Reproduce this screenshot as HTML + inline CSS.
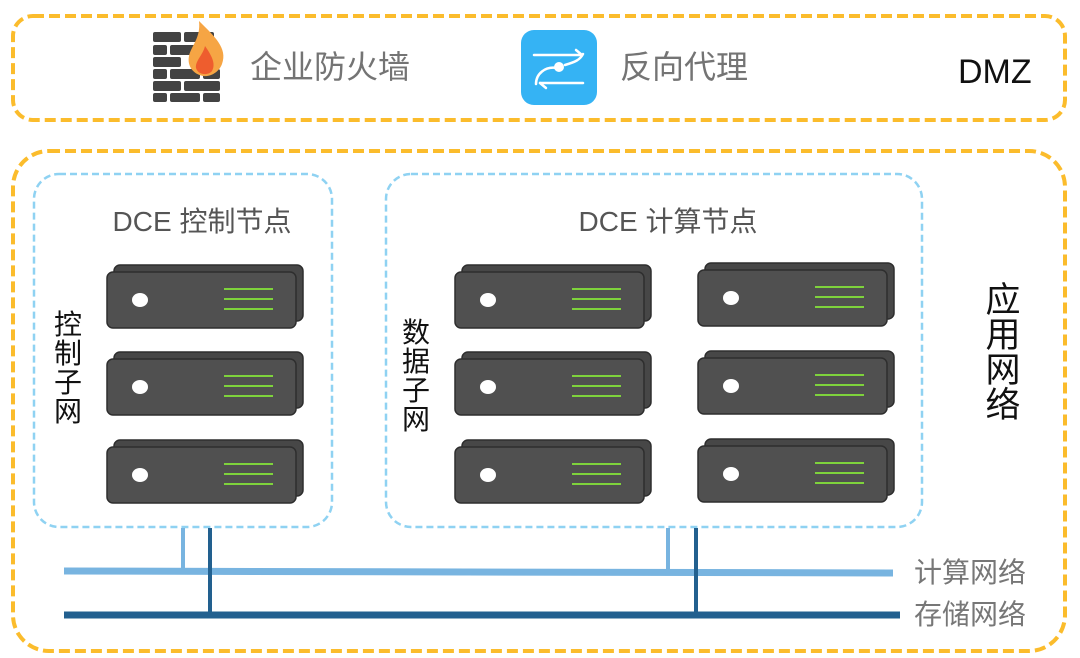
<!DOCTYPE html>
<html><head><meta charset="utf-8"><style>
html,body{margin:0;padding:0;background:#fff;}
svg{display:block;}
text{font-family:"Liberation Sans","Noto Sans CJK SC",sans-serif;}
</style></head><body>
<svg width="1080" height="658" viewBox="0 0 1080 658" xmlns="http://www.w3.org/2000/svg">
<defs>
<g id="srv">
  <rect x="7" y="0" width="189" height="56" rx="6" fill="#474747" stroke="#2e2e2e" stroke-width="1.5"/>
  <rect x="0" y="7" width="189" height="56" rx="6" fill="#505050" stroke="#2e2e2e" stroke-width="1.5"/>
  <ellipse cx="33" cy="35" rx="8" ry="7" fill="#fff"/>
  <g stroke="#7ed23c" stroke-width="2"><line x1="117" y1="24" x2="166" y2="24"/><line x1="117" y1="34" x2="166" y2="34"/><line x1="117" y1="44" x2="166" y2="44"/></g>
</g>
</defs>
<rect x="13" y="16" width="1052" height="104" rx="20" fill="none" stroke="#fbbc2c" stroke-width="4" stroke-dasharray="11 5"/>
<g fill="#434343">
  <rect x="153" y="32" width="28" height="10" rx="2"/><rect x="184" y="32" width="30" height="10" rx="2"/>
  <rect x="153" y="45" width="14" height="10" rx="2"/><rect x="170" y="45" width="30" height="10" rx="2"/>
  <rect x="153" y="57" width="28" height="10" rx="2"/>
  <rect x="153" y="69" width="14" height="10" rx="2"/><rect x="170" y="69" width="30" height="10" rx="2"/><rect x="203" y="69" width="17" height="10" rx="2"/>
  <rect x="153" y="81" width="28" height="10" rx="2"/><rect x="184" y="81" width="36" height="10" rx="2"/>
  <rect x="153" y="93" width="14" height="9" rx="2"/><rect x="170" y="93" width="30" height="9" rx="2"/><rect x="203" y="93" width="17" height="9" rx="2"/>
</g>
<path d="M199 21 C 214 36 228 48 222 64 C 219 72 211 77 203 76 C 193 74 187 66 189 56 C 191 46 201 38 199 21 Z" fill="#f6a544"/>
<path d="M205 46 C 212 56 216 64 212 71 C 208 76 198 75 196 68 C 195 61 203 55 205 46 Z" fill="#ee5d2e"/>
<text x="250" y="78" font-size="32" fill="#747474">企业防火墙</text>
<rect x="521" y="30" width="76" height="75" rx="13" fill="#35b3f4"/>
<g stroke="#fff" stroke-width="2.5" fill="none" stroke-linecap="round">
  <line x1="534" y1="55" x2="582" y2="55"/><path d="M576 50 L582 55"/>
  <line x1="540" y1="83" x2="583" y2="83"/><path d="M540 83 L546 88"/>
  <path d="M536 84 C 536 74 545 66 557 68"/><path d="M565 65 C 575 62 580 60 583 54"/>
</g>
<circle cx="559" cy="67" r="5" fill="#fff"/>
<text x="620" y="78" font-size="32" fill="#747474">反向代理</text>
<text x="958" y="83" font-size="34" fill="#111">DMZ</text>
<rect x="13" y="151" width="1052" height="500" rx="36" fill="none" stroke="#fbbc2c" stroke-width="4" stroke-dasharray="11 5"/>
<rect x="34" y="174" width="298" height="353" rx="25" fill="none" stroke="#8fd2f2" stroke-width="2.5" stroke-dasharray="7 4"/>
<rect x="386" y="174" width="536" height="353" rx="25" fill="none" stroke="#8fd2f2" stroke-width="2.5" stroke-dasharray="7 4"/>
<text x="202" y="231" font-size="28" fill="#555" text-anchor="middle">DCE 控制节点</text>
<text x="668" y="231" font-size="28" fill="#555" text-anchor="middle">DCE 计算节点</text>
<g font-size="28" fill="#111" text-anchor="middle">
<text x="68" y="334">控</text><text x="68" y="363">制</text><text x="68" y="392">子</text><text x="68" y="421">网</text>
<text x="416" y="342">数</text><text x="416" y="371">据</text><text x="416" y="400">子</text><text x="416" y="429">网</text>
</g>
<g font-size="35" fill="#111" text-anchor="middle">
<text x="1003" y="312">应</text><text x="1003" y="347">用</text><text x="1003" y="382">网</text><text x="1003" y="417">络</text>
</g>
<use href="#srv" x="107" y="265"/><use href="#srv" x="107" y="352"/><use href="#srv" x="107" y="440"/>
<use href="#srv" x="455" y="265"/><use href="#srv" x="455" y="352"/><use href="#srv" x="455" y="440"/>
<use href="#srv" x="698" y="263"/><use href="#srv" x="698" y="351"/><use href="#srv" x="698" y="439"/>
<line x1="183" y1="528" x2="183" y2="572" stroke="#78b4e0" stroke-width="4"/>
<line x1="668" y1="528" x2="668" y2="573" stroke="#78b4e0" stroke-width="4"/>
<line x1="64" y1="571" x2="893" y2="573" stroke="#78b4e0" stroke-width="7"/>
<line x1="210" y1="528" x2="210" y2="615" stroke="#22608f" stroke-width="4"/>
<line x1="696" y1="528" x2="696" y2="615" stroke="#22608f" stroke-width="4"/>
<line x1="64" y1="615" x2="900" y2="615" stroke="#22608f" stroke-width="7"/>
<text x="914" y="582" font-size="28" fill="#777">计算网络</text>
<text x="914" y="624" font-size="28" fill="#777">存储网络</text>
</svg>
</body></html>
